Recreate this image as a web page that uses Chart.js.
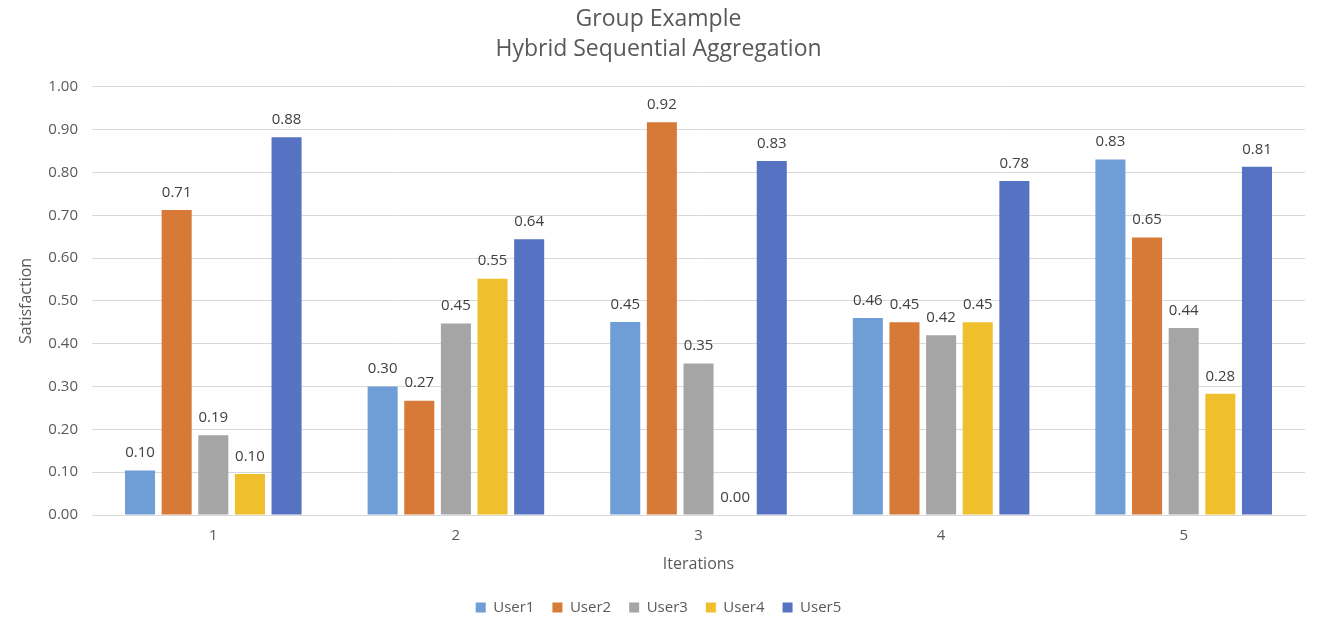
<!DOCTYPE html>
<html>
<head>
<meta charset="utf-8">
<script src="https://cdn.jsdelivr.net/npm/chart.js@4.4.0/dist/chart.umd.min.js"></script>
<style>
  html, body { margin: 0; padding: 0; background: #fff; }
  #wrap { width: 1319px; height: 619px; }
</style>
</head>
<body>
<div id="wrap"><canvas id="chart" width="1319" height="619"></canvas></div>
<script>
// ---- data ----
const ITERATIONS = ['1', '2', '3', '4', '5'];
const USER1 = [0.104, 0.300, 0.451, 0.460, 0.830];
const USER2 = [0.712, 0.267, 0.917, 0.450, 0.648];
const USER3 = [0.186, 0.447, 0.354, 0.420, 0.437];
const USER4 = [0.096, 0.552, 0.000, 0.450, 0.283];
const USER5 = [0.882, 0.644, 0.827, 0.780, 0.813];
const SERIES_NAMES = ['User1', 'User2', 'User3', 'User4', 'User5'];
const TITLE_LINES = ['Group Example', 'Hybrid Sequential Aggregation'];

const COLORS = ['#6f9dd6', '#d77a37', '#a5a5a5', '#f0bf2c', '#5572c3'];
const FONT = '"Open Sans", "Noto Sans", sans-serif';
const TEXT = '#595959';

// value labels above each bar
const valueLabels = {
  id: 'valueLabels',
  afterDatasetsDraw(chart) {
    const ctx = chart.ctx;
    ctx.save();
    ctx.font = '15px ' + FONT;
    ctx.fillStyle = '#404040';
    ctx.textAlign = 'center';
    ctx.textBaseline = 'bottom';
    chart.data.datasets.forEach((ds, i) => {
      chart.getDatasetMeta(i).data.forEach((bar, j) => {
        ctx.fillText(ds.data[j].toFixed(2), bar.x, bar.y - 10);
      });
    });
    ctx.restore();
  }
};

const allSeries = [USER1, USER2, USER3, USER4, USER5];

new Chart(document.getElementById('chart'), {
  type: 'bar',
  data: {
    labels: ITERATIONS,
    datasets: allSeries.map((vals, i) => ({
      label: SERIES_NAMES[i],
      data: vals,
      backgroundColor: COLORS[i],
      categoryPercentage: 0.755,
      barPercentage: 0.82,
    })),
  },
  options: {
    responsive: false,
    animation: false,
    layout: { padding: { left: 12, right: 14, top: 5, bottom: -6 } },
    plugins: {
      title: {
        display: true,
        text: TITLE_LINES,
        color: TEXT,
        font: { family: FONT, size: 23, weight: 'normal', lineHeight: 1.3 },
        padding: { top: 0, bottom: 22 },
      },
      legend: {
        position: 'bottom',
        labels: {
          color: TEXT,
          font: { family: FONT, size: 15 },
          boxWidth: 10,
          boxHeight: 10,
          padding: 18,
        },
      },
      tooltip: { enabled: false },
    },
    scales: {
      x: {
        grid: { display: false, drawTicks: false },
        border: { color: '#d9d9d9' },
        ticks: { color: TEXT, font: { family: FONT, size: 15 }, padding: 12 },
        title: { display: true, text: 'Iterations', color: TEXT, font: { family: FONT, size: 16 }, padding: { top: 0, bottom: 8 } },
        afterFit: s => { s.height = 67; },
      },
      y: {
        min: 0,
        max: 1,
        ticks: { stepSize: 0.1, color: TEXT, font: { family: FONT, size: 15 }, padding: 14, callback: v => v.toFixed(2) },
        grid: { color: '#d9d9d9', drawTicks: false },
        border: { display: false },
        title: { display: true, text: 'Satisfaction', color: TEXT, font: { family: FONT, size: 16 }, padding: { top: 5, bottom: 6 } },
        afterFit: s => { s.width = 80; },
      },
    },
  },
  plugins: [valueLabels],
});
</script>
</body>
</html>
